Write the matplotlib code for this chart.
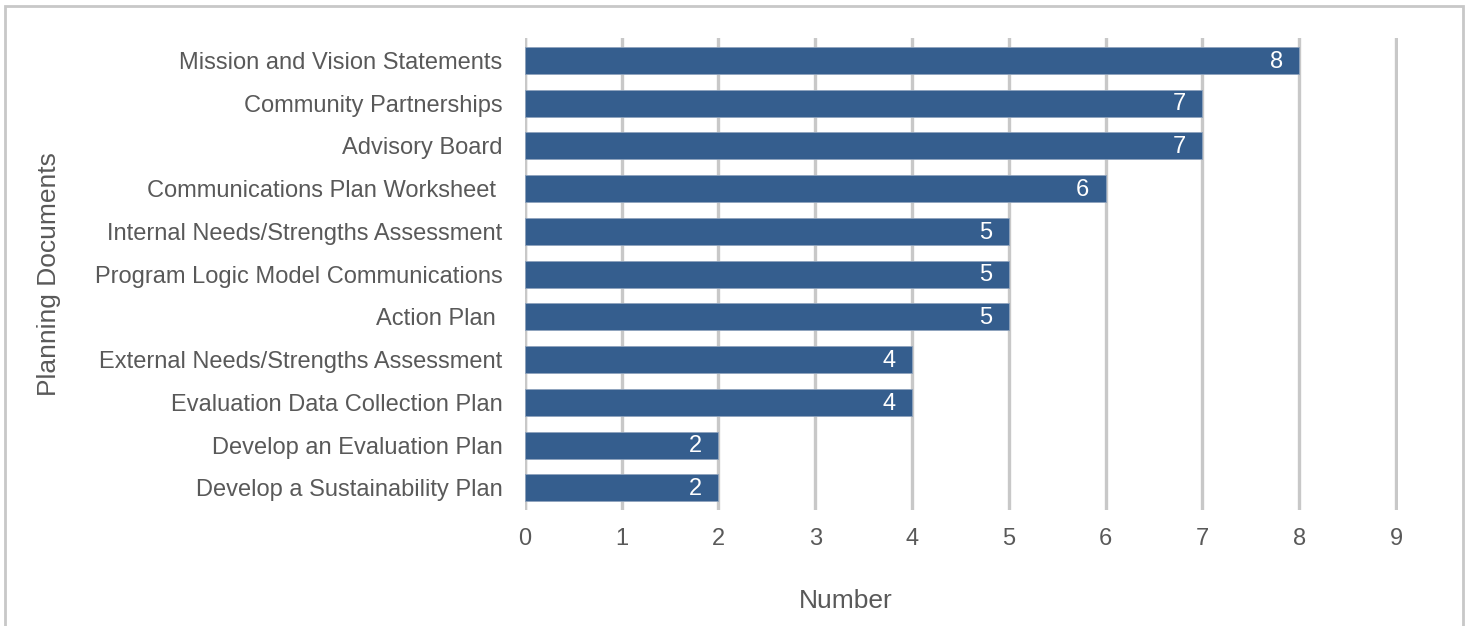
import matplotlib.pyplot as plt
from matplotlib.patches import Rectangle

plt.rcParams['font.family'] = ['Liberation Sans', 'DejaVu Sans']

documents = [
    "Mission and Vision Statements",
    "Community Partnerships",
    "Advisory Board",
    "Communications Plan Worksheet ",
    "Internal Needs/Strengths Assessment",
    "Program Logic Model Communications",
    "Action Plan ",
    "External Needs/Strengths Assessment",
    "Evaluation Data Collection Plan",
    "Develop an Evaluation Plan",
    "Develop a Sustainability Plan",
]
counts = [8, 7, 7, 6, 5, 5, 5, 4, 4, 2, 2]
x_ticks = list(range(10))

bar_color = "#355E8E"
text_gray = "#595959"

fig = plt.figure(figsize=(14.7, 6.26), dpi=100)
ax = fig.add_axes([0.357, 0.185, 0.594, 0.754])

ypos = list(range(len(documents)))
bars = ax.barh(ypos, counts, height=0.63, color=bar_color,
               edgecolor="#8FA3BD", linewidth=0.6, zorder=3)

for b, v in zip(bars, counts):
    ax.text(b.get_width() - 0.17, b.get_y() + b.get_height() / 2 + 0.03, str(v),
            ha="right", va="center", color="white", fontsize=17, zorder=4)

ax.set_xlim(0, 9.02)
ax.set_ylim(len(documents) - 0.48, -0.52)
ax.set_xticks(x_ticks)
ax.set_yticks(ypos)
ax.set_yticklabels(documents)
ax.tick_params(axis="both", length=0, colors=text_gray, labelsize=17)
ax.tick_params(axis="x", pad=13)
ax.tick_params(axis="y", pad=16)
ax.xaxis.grid(True, color="#C8C8C8", linewidth=2.4, zorder=0)
for s in ax.spines.values():
    s.set_visible(False)
ax.axvline(0, color="#C8C8C8", linewidth=2.4, zorder=0)

ax.set_xlabel("Number", fontsize=19, color=text_gray)
ax.xaxis.set_label_coords(0.368, -0.167)
ax.set_ylabel("Planning Documents", fontsize=19, color=text_gray)
ax.yaxis.set_label_coords(-0.531, 0.5)

# outer chart border
fig.patches.append(Rectangle((5 / 1470, -0.05), 1458 / 1470, 1.05 - 6 / 626,
                             transform=fig.transFigure, fill=False,
                             edgecolor="#C8C8C8", linewidth=2))

fig.savefig("out.png", dpi=100)
